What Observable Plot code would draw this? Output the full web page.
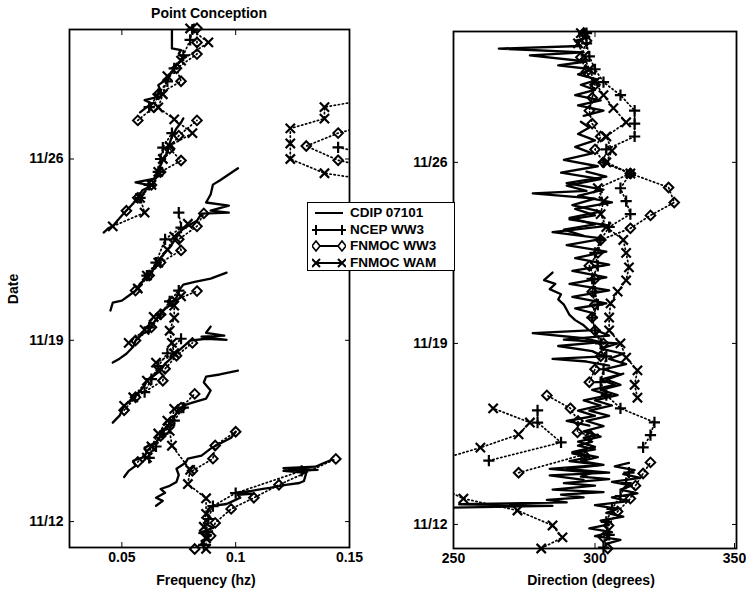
<!DOCTYPE html>
<html><head><meta charset="utf-8">
<script src="https://cdn.jsdelivr.net/npm/d3@7"></script>
<script src="https://cdn.jsdelivr.net/npm/@observablehq/plot@0.6"></script>
<style>
body{margin:0;background:#fff;}
#wrap{position:relative;width:746px;height:592px;font-family:"Liberation Sans",Arial,sans-serif;font-weight:bold;color:#000;overflow:hidden;}
#wrap > svg{position:absolute;top:0;}
.lbl{position:absolute;font-size:14px;white-space:nowrap;line-height:16px;}
#legend{position:absolute;left:307px;top:202px;width:146px;height:67px;border:1.5px solid #000;background:#fff;z-index:3;}
#legend .row{position:absolute;left:4px;height:16px;font-size:13.5px;line-height:16px;white-space:nowrap;}
#legend svg{vertical-align:middle;margin-right:4px;}
</style></head><body><div id="wrap"></div>
<script>
// ---------------- data: [track, day of November, value] ----------------
const dateTicks = [12, 19, 26];
const freqTicks = [0.05, 0.1, 0.15];
const dirTicks = [250, 300, 350];

const cdipFreq = [
[1,11.25,0.085],[1,11.45,0.089],[1,11.56,0.084],[1,11.76,0.090],[1,11.95,0.086],[1,12.14,0.089],[1,12.30,0.087],[1,12.49,0.088],[1,12.61,0.090],[1,12.68,0.096],[1,12.80,0.099],[1,12.92,0.102],[1,13.03,0.101],[1,13.08,0.108],[1,13.12,0.100],[1,13.19,0.107],[1,13.26,0.112],[1,13.30,0.115],[1,13.42,0.122],[1,13.49,0.128],[1,13.57,0.130],[1,13.88,0.131],[1,13.96,0.121],[1,14.0,0.136],[1,14.06,0.121],[1,14.12,0.135],[1,14.27,0.139],[1,14.38,0.142],
[2,12.61,0.065],[2,12.80,0.068],[2,12.92,0.065],[2,13.11,0.069],[2,13.26,0.067],[2,13.38,0.071],[2,13.53,0.074],[2,13.80,0.075],[2,14.04,0.074],[2,14.27,0.078],[2,14.43,0.079],[2,14.55,0.085],[2,14.82,0.089],[2,15.05,0.094],[2,15.24,0.098],[2,15.47,0.100],
[3,13.72,0.051],[3,13.96,0.053],[3,14.15,0.056],[3,14.35,0.055],[3,14.47,0.059],[3,14.66,0.061],[3,14.86,0.060],[3,15.05,0.065],[3,15.32,0.067],[3,15.59,0.069],[3,15.90,0.072],[3,16.20,0.074],[3,16.48,0.077],[3,16.59,0.081],[3,16.75,0.087],[3,17.06,0.089],[3,17.37,0.086],[3,17.60,0.087],[3,17.68,0.093],[3,17.83,0.101],
[4,15.82,0.046],[4,16.09,0.049],[4,16.48,0.051],[4,16.67,0.054],[4,16.94,0.057],[4,17.25,0.060],[4,17.44,0.061],[4,17.63,0.064],[4,17.83,0.067],[4,18.10,0.069],[4,18.33,0.072],[4,18.60,0.075],[4,18.83,0.078],[4,18.99,0.080],[4,19.06,0.087],[4,19.02,0.096],[4,19.14,0.085],[4,19.18,0.095],[4,19.29,0.087],[4,19.53,0.089],
[5,18.14,0.046],[5,18.29,0.049],[5,18.48,0.052],[5,18.75,0.055],[5,18.99,0.056],[5,19.25,0.059],[5,19.37,0.062],[5,19.57,0.063],[5,19.91,0.066],[5,20.15,0.068],[5,20.34,0.071],[5,20.65,0.074],[5,20.92,0.075],[5,21.15,0.077],[5,21.26,0.082],[5,21.38,0.089],[5,21.61,0.096],
[6,20.15,0.045],[6,20.45,0.046],[6,20.53,0.050],[6,20.72,0.053],[6,20.92,0.056],[6,21.19,0.058],[6,21.50,0.062],[6,21.77,0.064],[6,22.08,0.066],[6,22.39,0.069],[6,22.58,0.071],[6,22.97,0.074],[6,23.24,0.076],[6,23.47,0.080],[6,23.62,0.083],[6,23.89,0.085],[6,23.93,0.097],[6,24.01,0.089],[6,24.20,0.097],[6,24.32,0.087],[6,24.63,0.089],[6,25.01,0.090],[6,25.17,0.093],[6,25.64,0.101],
[7,23.16,0.042],[7,23.32,0.044],[7,23.40,0.046],[7,23.62,0.048],[7,23.82,0.050],[7,24.01,0.052],[7,24.28,0.055],[7,24.52,0.057],[7,24.79,0.059],[7,24.97,0.063],[7,25.10,0.056],[7,25.25,0.065],[7,25.56,0.066],[7,25.94,0.068],[7,26.25,0.070],[7,26.60,0.071],[7,26.87,0.072],[7,27.18,0.074],[7,27.41,0.076],[7,27.57,0.077],
[8,27.80,0.058],[8,28.15,0.063],[8,28.27,0.060],[8,28.38,0.065],[8,28.65,0.067],[8,28.85,0.066],[8,29.04,0.069],[8,29.35,0.072],[8,29.62,0.074],[8,29.89,0.077],[8,30.08,0.075],[8,30.20,0.076],[8,30.27,0.072],[8,31.0,0.072]
];

const ncepFreq = [
[1,11.1,0.086],[1,11.6,0.087],[1,12.1,0.088],[1,12.6,0.090],[1,13.1,0.100],[1,13.96,0.129],
[2,14.46,0.062],[2,14.9,0.065],[2,15.4,0.068],[2,15.9,0.073],[2,16.4,0.077],
[3,17.0,0.060],[3,17.5,0.063],[3,18.0,0.066],[3,18.5,0.070],[3,19.06,0.076],
[4,19.5,0.062],[4,20.0,0.067],[4,20.5,0.071],[4,20.92,0.075],
[5,21.5,0.061],[5,22.0,0.065],[5,22.9,0.069],[5,23.35,0.076],[5,23.93,0.075],
[6,24.5,0.058],[6,25.0,0.062],[6,25.5,0.066],[6,26.0,0.067],[6,26.44,0.068],[6,27.0,0.072],
[7,28.0,0.062],[7,28.5,0.066],[7,29.0,0.070],[7,29.5,0.073],[7,30.0,0.077],[7,30.6,0.080],[7,31.0,0.081],
[8,26.45,0.145],[8,26.2,0.158]
];

const ww3Freq = [
[1,10.94,0.082],[1,11.45,0.089],[1,11.95,0.091],[1,12.49,0.098],[1,12.92,0.108],[1,13.42,0.119],[1,14.42,0.144],
[2,13.96,0.081],[2,14.43,0.090],[2,14.94,0.091],[2,15.47,0.100],
[3,14.3,0.057],[3,14.8,0.062],[3,15.3,0.067],[3,15.8,0.071],[3,16.4,0.076],[3,16.93,0.082],
[4,16.3,0.051],[4,16.8,0.056],[4,17.44,0.068],[4,17.9,0.069],[4,18.4,0.074],[4,18.9,0.081],
[5,18.99,0.056],[5,19.5,0.063],[5,20.0,0.067],[5,20.5,0.072],[5,20.9,0.083],
[6,20.92,0.056],[6,21.5,0.062],[6,22.0,0.067],[6,22.47,0.076],[6,22.9,0.075],[6,23.4,0.083],[6,23.9,0.086],
[7,24.0,0.052],[7,24.5,0.057],[7,25.0,0.063],[7,25.5,0.067],[7,25.94,0.076],[7,26.4,0.071],[7,26.9,0.075],[7,27.49,0.083],
[8,27.49,0.057],[8,28.0,0.064],[8,28.5,0.066],[8,29.0,0.076],[8,29.5,0.074],[8,30.05,0.083],[8,30.5,0.083],[8,31.05,0.083],
[9,25.7,0.158],[9,25.95,0.145],[9,26.5,0.131],[9,27.0,0.145],[9,27.3,0.158]
];

const wamFreq = [
[1,10.95,0.087],[1,11.35,0.087],[1,11.8,0.086],[1,12.3,0.087],[1,12.9,0.087],[1,13.45,0.079],[1,14.0,0.080],[1,14.93,0.072],[1,15.5,0.071],[1,16.35,0.073],
[2,14.47,0.061],[2,14.9,0.063],[2,15.4,0.066],[2,15.9,0.070],
[3,16.47,0.051],[3,16.8,0.055],[3,17.44,0.061],[3,17.83,0.066],[3,18.14,0.065],[3,18.5,0.073],[3,18.9,0.072],[3,19.37,0.071],[3,19.87,0.073],[3,20.34,0.073],[3,20.7,0.076],
[4,18.9,0.053],[4,19.4,0.060],[4,19.9,0.064],
[5,21.0,0.057],[5,21.5,0.061],[5,22.0,0.066],[5,22.5,0.070],[5,23.0,0.073],[5,23.5,0.079],
[6,23.4,0.046],[6,23.93,0.060],[6,24.5,0.058],[6,25.0,0.063],[6,25.5,0.066],[6,26.0,0.068],[6,26.5,0.071],[6,27.0,0.081],[6,27.53,0.073],[6,27.99,0.066],[6,28.5,0.068],[6,29.2,0.070],[6,29.8,0.076],[6,30.5,0.088],[6,31.04,0.080],
[7,25.2,0.158],[7,25.45,0.139],[7,26.0,0.124],[7,26.6,0.124],[7,27.18,0.124],[7,27.56,0.139],[7,28.0,0.139],[7,28.3,0.158]
];

const cdipDir = [
[1,11.25,304],[1,11.4,309],[1,11.55,300],[1,11.7,306],[1,11.85,298],[1,12.0,305],[1,12.15,302],[1,12.3,310],[1,12.45,304],[1,12.6,308],[1,12.75,300],[1,12.9,312],[1,13.05,306],[1,13.2,315],[1,13.35,309],[1,13.5,313],[1,13.65,306],[1,13.8,316],[1,13.95,310],[1,14.1,314],[1,14.25,307],[1,14.38,312],
[2,12.65,249],[2,12.72,285],[2,12.78,252],[2,12.85,290],[2,12.95,283],[2,13.05,296],[2,13.15,288],[2,13.25,303],[2,13.35,285],[2,13.5,300],[2,13.6,289],[2,13.75,305],[2,13.85,295],[2,14.0,299],[2,14.15,284],[2,14.3,302],[2,14.45,291],[2,14.6,298],[2,14.75,292],[2,14.9,300],[2,15.05,294],[2,15.2,299],[2,15.35,296],[2,15.47,301],
[3,13.72,296],[3,13.9,284],[3,14.0,305],[3,14.15,290],[3,14.3,303],[3,14.45,295],[3,14.6,301],[3,14.8,292],[3,15.0,300],[3,15.2,294],[3,15.4,302],[3,15.6,296],[3,15.8,303],[3,16.0,297],[3,16.2,305],[3,16.4,298],[3,16.6,306],[3,16.8,300],[3,17.0,308],[3,17.2,302],[3,17.4,309],[3,17.6,304],[3,17.83,310],
[4,15.82,298],[4,16.0,290],[4,16.2,300],[4,16.4,294],[4,16.6,302],[4,16.8,296],[4,17.0,305],[4,17.2,299],[4,17.4,307],[4,17.6,302],[4,17.8,309],[4,18.0,303],[4,18.2,311],[4,18.4,305],[4,18.6,310],[4,18.8,302],[4,19.0,308],[4,19.15,289],[4,19.3,305],[4,19.53,300],
[5,18.14,305],[5,18.3,297],[5,18.4,285],[5,18.5,303],[5,18.7,299],[5,18.9,287],[5,19.05,302],[5,19.2,296],[5,19.4,278],[5,19.5,298],[5,19.7,296],[5,19.9,293],[5,20.1,291],[5,20.3,290],[5,20.5,289],[5,20.7,287],[5,20.9,288],[5,21.1,284],[5,21.3,286],[5,21.45,282],[5,21.74,285],
[6,20.15,300],[6,20.35,293],[6,20.55,304],[6,20.8,292],[6,21.05,305],[6,21.3,291],[6,21.55,304],[6,21.8,292],[6,22.05,305],[6,22.3,293],[6,22.55,304],[6,22.8,290],[6,23.05,303],[6,23.3,285],[6,23.55,305],[6,23.8,291],[6,23.95,300],[6,24.2,293],[6,24.45,306],[6,24.7,294],[6,24.95,303],[6,25.2,290],[6,25.45,304],[6,25.64,297],
[7,23.16,296],[7,23.4,289],[7,23.6,300],[7,23.85,291],[7,24.1,302],[7,24.35,292],[7,24.6,300],[7,24.8,278],[7,24.9,297],[7,25.1,290],[7,25.35,302],[7,25.6,288],[7,25.85,301],[7,26.1,289],[7,26.35,299],[7,26.6,293],[7,26.85,300],[7,27.1,294],[7,27.35,298],[7,27.57,295],
[8,27.8,296],[8,28.0,303],[8,28.2,294],[8,28.4,302],[8,28.6,293],[8,28.8,300],[8,29.0,295],[8,29.2,301],[8,29.4,294],[8,29.6,299],[8,29.75,287],[8,29.9,297],[8,30.14,277],[8,30.25,296],[8,30.4,266],[8,30.5,295],[8,30.7,293],[8,30.85,298],[8,31.0,296]
];

const ncepDir = [
[1,11.1,303],[1,11.6,305],[1,12.1,304],[1,12.6,306],[1,13.1,309],[1,13.6,311],[1,14.0,312],
[2,14.47,262.5],[2,15.17,288],[2,15.94,279.7],[2,16.41,279.7],
[3,14.98,317],[3,15.45,319.6],[3,15.95,321],[3,16.49,309],[3,17.0,304],[3,17.5,302],[3,18.0,303],[3,18.5,304],[3,19.0,302],[3,19.5,300],[3,20.0,299],[3,20.5,301],[3,21.0,300],[3,21.5,299],[3,22.0,301],[3,22.5,300],[3,23.0,302],[3,23.5,305],[3,24.0,312.5],[3,24.5,311],[3,25.0,309],[3,25.57,312.5],[3,26.0,303],[3,26.5,304],[3,27.0,314],[3,27.5,314],[3,28.0,314],[3,28.6,309],[3,29.1,303],[3,29.6,300],[3,30.1,298],[3,30.6,297],[3,31.0,297]
];

const ww3Dir = [
[1,11.07,304.5],[1,11.5,303],[1,11.96,304.8],[1,12.5,308],[1,13.0,312.5],[1,13.5,314.3],[1,13.97,317],[1,14.4,319.6],
[2,14.0,273],[2,14.7,296],[2,15.44,298.4],[2,15.56,293.8],[2,16.0,294],[2,16.49,291.3],[2,16.99,283],
[3,17.5,298],[3,18.0,300],[3,18.5,302],[3,19.0,303],[3,19.5,300],[3,20.0,299],[3,20.5,300],[3,21.0,299],[3,21.5,300],[3,22.0,298],[3,22.5,301],[3,23.0,302],[3,23.45,312.5],[3,23.95,319.6],[3,24.45,328],[3,25.03,326],[3,25.57,312.5],[3,26.0,303],[3,26.5,300],[3,27.0,302],[3,27.5,299],[3,28.0,298],[3,28.5,299],[3,29.0,300],[3,29.5,297],[3,30.06,295],[3,30.7,297],[3,31.0,296]
];

const wamDir = [
[1,11.07,281],[1,11.5,288.5],[1,11.96,285],[1,12.54,272.6],[1,13.0,253.5],[1,13.5,244],
[2,14.5,245],[2,14.97,259.5],[2,15.48,273],[2,15.94,277],[2,16.49,264],
[3,16.9,315],[3,17.4,314],[3,17.96,315],[3,18.45,311],[3,19.0,309],[3,19.5,305],[3,20.0,305],[3,20.55,305.5],[3,21.0,308],[3,21.44,311],[3,21.94,312],[3,22.5,311],[3,23.0,310],[3,23.5,304],[3,24.0,302],[3,24.5,303],[3,25.0,301],[3,25.57,312.5],[3,26.0,304],[3,26.45,306],[3,27.0,304],[3,27.55,311],[3,28.1,306.5],[3,28.6,303],[3,29.1,300],[3,29.6,298],[3,30.1,296],[3,30.6,294],[3,31.0,295]
];

// ---------------- drawing ----------------
const style = {fontFamily: '"Liberation Sans", Arial, sans-serif', fontSize: "14px", fontWeight: "bold", background: "transparent", overflow: "visible", color: "black"};

function panel({cdip, ncep, ww3, wam, xDomain, yDomain, xTicks, xFmt, lastDx, width, ml, mr, mt, mb}) {
  const X = d => d[2], Y = d => d[1], Z = d => d[0];
  const inX = d => d[2] >= xDomain[0] && d[2] <= xDomain[1];
  const dotted = {x: X, y: Y, z: Z, stroke: "black", strokeWidth: 1.7, strokeDasharray: "1.3,2.8", clip: true};
  const firstTicks = xTicks.slice(0, -1), lastTick = xTicks.slice(-1);
  return Plot.plot({
    width, height: 592, marginLeft: ml, marginRight: mr, marginTop: mt, marginBottom: mb,
    style,
    x: {domain: xDomain},
    y: {domain: yDomain},
    marks: [
      Plot.line(cdip, {x: X, y: Y, z: Z, stroke: "black", strokeWidth: 2.3, clip: true}),
      Plot.line(ncep, dotted),
      Plot.line(ww3, dotted),
      Plot.line(wam, dotted),
      Plot.dot(ww3.filter(inX), {x: X, y: Y, symbol: "diamond2", r: 4.3, stroke: "black", fill: "none", strokeWidth: 2}),
      Plot.dot(ncep.filter(inX), {x: X, y: Y, symbol: "plus", r: 3.7, stroke: "black", strokeWidth: 2.2}),
      Plot.dot(wam.filter(inX), {x: X, y: Y, symbol: "times", r: 4.3, stroke: "black", strokeWidth: 2.2}),
      Plot.axisX({anchor: "bottom", ticks: firstTicks, tickFormat: xFmt, tickSize: -5, tickPadding: 10, label: null}),
      Plot.axisX({anchor: "bottom", ticks: lastTick, tickFormat: xFmt, tickSize: -5, tickPadding: 10, dx: lastDx, label: null}),
      Plot.axisX({anchor: "top", ticks: xTicks, tickFormat: () => "", tickSize: -5, label: null}),
      Plot.axisY({anchor: "left", ticks: dateTicks, tickFormat: d => "11/" + d, tickSize: -5, tickPadding: 11, label: null}),
      Plot.axisY({anchor: "right", ticks: dateTicks, tickFormat: () => "", tickSize: -5, label: null}),
      Plot.frame({stroke: "black", strokeWidth: 1.8})
    ]
  });
}

const wrap = document.getElementById("wrap");

const left = panel({cdip: cdipFreq, ncep: ncepFreq, ww3: ww3Freq, wam: wamFreq,
  xDomain: [0.027, 0.15], yDomain: [11, 31], xTicks: freqTicks, xFmt: d => String(d), lastDx: 0,
  width: 362, ml: 69, mr: 13, mt: 29, mb: 45});
left.style.left = "0px";
wrap.appendChild(left);

const right = panel({cdip: cdipDir, ncep: ncepDir, ww3: ww3Dir, wam: wamDir,
  xDomain: [250, 350], yDomain: [11.07, 31.06], xTicks: dirTicks, xFmt: d => String(d), lastDx: -2,
  width: 366, ml: 73, mr: 10, mt: 31, mb: 44});
right.style.left = "380px";
wrap.appendChild(right);

function label(text, x, y, extra = "") {
  const d = document.createElement("div");
  d.className = "lbl";
  d.textContent = text;
  d.style.left = x + "px";
  d.style.top = y + "px";
  d.style.transform = "translate(-50%,-50%)" + extra;
  wrap.appendChild(d);
}
label("Point Conception", 209, 13);
label("Frequency (hz)", 206, 580);
label("Direction (degrees)", 591, 580);
label("Date", 13, 289, " rotate(-90deg)");

// legend
const legendItems = [
  {name: "CDIP 07101", sym: ""},
  {name: "NCEP WW3", sym: "plus"},
  {name: "FNMOC WW3", sym: "diamond"},
  {name: "FNMOC WAM", sym: "times"}
];
const lg = document.createElement("div");
lg.id = "legend";
function symSvg(sym, cx) {
  if (sym === "plus") return `<path d="M${cx-5},8H${cx+5}M${cx},3V13" stroke="#000" stroke-width="2"/>`;
  if (sym === "diamond") return `<path d="M${cx},3L${cx+4},8L${cx},13L${cx-4},8Z" stroke="#000" stroke-width="1.6" fill="#fff"/>`;
  if (sym === "times") return `<path d="M${cx-4},4L${cx+4},12M${cx-4},12L${cx+4},4" stroke="#000" stroke-width="2"/>`;
  return "";
}
legendItems.forEach((it, i) => {
  const row = document.createElement("div");
  row.className = "row";
  row.style.top = (2 + i * 16.5) + "px";
  row.innerHTML = `<svg width="34" height="16"><line x1="3" y1="8" x2="31" y2="8" stroke="#000" stroke-width="2"/>${symSvg(it.sym, 4)}${symSvg(it.sym, 30)}</svg>` + it.name;
  lg.appendChild(row);
});
wrap.appendChild(lg);
</script></body></html>
